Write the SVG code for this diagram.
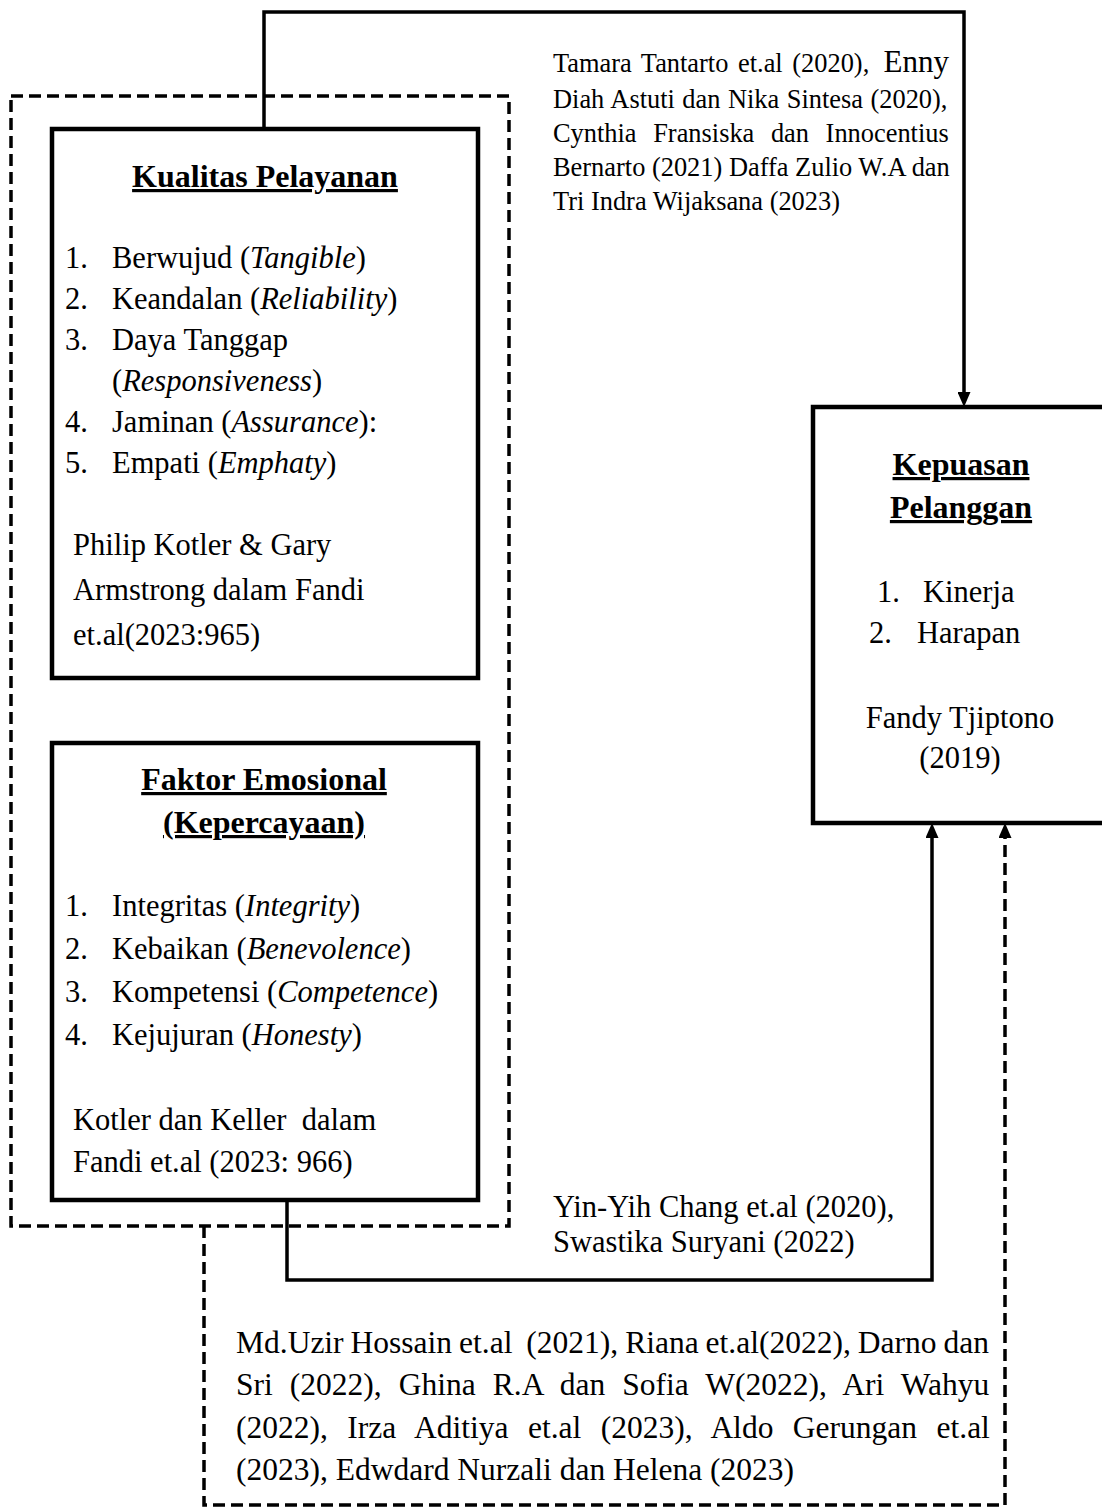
<svg xmlns="http://www.w3.org/2000/svg" width="1102" height="1508" viewBox="0 0 1102 1508">
<style>
text{font-family:"Liberation Serif","Times New Roman",serif;fill:#000}
.t{font-size:32px;font-weight:bold;text-decoration:underline;text-anchor:middle}
.b{font-size:30.5px}
.c{font-size:26.4px}
.d{font-size:31.5px}
.box{fill:#fff;stroke:#000;stroke-width:4.5}
.ln{fill:none;stroke:#000;stroke-width:3.5}
.dash{fill:none;stroke:#000;stroke-width:3.5;stroke-dasharray:12 6}
.i{font-style:italic}
</style>
<defs>
<marker id="ah" markerUnits="userSpaceOnUse" markerWidth="15" markerHeight="13" refX="0" refY="6.5" orient="auto">
<path d="M0,0 L15,6.5 L0,13 z" fill="#000"/>
</marker>
</defs>
<rect x="0" y="0" width="1102" height="1508" fill="#fff"/>

<g id="group-frame">
<rect x="11" y="96" width="498" height="1130" class="dash"/>
</g>

<g id="connectors">
<path d="M264,129 V12 H964 V392" class="ln" marker-end="url(#ah)"/>
<path d="M287,1200 V1280 H932 V838" class="ln" marker-end="url(#ah)"/>
<path d="M204,1226 V1505 H1005 V838" class="dash" marker-end="url(#ah)"/>
</g>

<g id="node-kualitas">
<rect x="52" y="129" width="426" height="549" class="box"/>
<text x="265" y="187" class="t">Kualitas Pelayanan</text>
<text class="b" x="65" y="268">1.</text><text class="b" x="112" y="268">Berwujud (<tspan class="i">Tangible</tspan>)</text>
<text class="b" x="65" y="309">2.</text><text class="b" x="112" y="309">Keandalan (<tspan class="i">Reliability</tspan>)</text>
<text class="b" x="65" y="350">3.</text><text class="b" x="112" y="350">Daya Tanggap</text>
<text class="b" x="112" y="391">(<tspan class="i">Responsiveness</tspan>)</text>
<text class="b" x="65" y="432">4.</text><text class="b" x="112" y="432">Jaminan (<tspan class="i">Assurance</tspan>):</text>
<text class="b" x="65" y="473">5.</text><text class="b" x="112" y="473">Empati (<tspan class="i">Emphaty</tspan>)</text>
<text class="b" x="73" y="555">Philip Kotler &amp; Gary</text>
<text class="b" x="73" y="600">Armstrong dalam Fandi</text>
<text class="b" x="73" y="645">et.al(2023:965)</text>
</g>

<g id="node-faktor">
<rect x="52" y="743" width="426" height="457" class="box"/>
<text x="264" y="790" class="t">Faktor Emosional</text>
<text x="264" y="833" class="t">(Kepercayaan)</text>
<text class="b" x="65" y="916">1.</text><text class="b" x="112" y="916">Integritas (<tspan class="i">Integrity</tspan>)</text>
<text class="b" x="65" y="959">2.</text><text class="b" x="112" y="959">Kebaikan (<tspan class="i">Benevolence</tspan>)</text>
<text class="b" x="65" y="1002">3.</text><text class="b" x="112" y="1002">Kompetensi (<tspan class="i">Competence</tspan>)</text>
<text class="b" x="65" y="1045">4.</text><text class="b" x="112" y="1045">Kejujuran (<tspan class="i">Honesty</tspan>)</text>
<text class="b" x="73" y="1130" xml:space="preserve">Kotler dan Keller  dalam</text>
<text class="b" x="73" y="1172">Fandi et.al (2023: 966)</text>
</g>

<g id="node-kepuasan">
<rect x="813" y="407" width="300" height="416" class="box"/>
<text x="961" y="475" class="t">Kepuasan</text>
<text x="961" y="518" class="t">Pelanggan</text>
<text class="b" x="877" y="602">1.</text><text class="b" x="923" y="602">Kinerja</text>
<text class="b" x="869" y="643">2.</text><text class="b" x="917" y="643">Harapan</text>
<text class="b" x="960" y="728" text-anchor="middle">Fandy Tjiptono</text>
<text class="b" x="960" y="768" text-anchor="middle">(2019)</text>
</g>

<g id="label-top">
<text class="c" x="553" y="72" word-spacing="3">Tamara Tantarto et.al (2020),</text>
<text x="949" y="72" font-size="31" text-anchor="end">Enny</text>
<text class="c" x="553" y="108" word-spacing="0.9">Diah Astuti dan Nika Sintesa (2020),</text>
<text class="c" x="553" y="142" word-spacing="10">Cynthia Fransiska dan Innocentius</text>
<text class="c" x="553" y="176" word-spacing="0">Bernarto (2021) Daffa Zulio W.A dan</text>
<text class="c" x="553" y="210">Tri Indra Wijaksana (2023)</text>
</g>

<g id="label-mid">
<text class="b" x="553" y="1217">Yin-Yih Chang et.al (2020),</text>
<text class="b" x="553" y="1252">Swastika Suryani (2022)</text>
</g>

<g id="label-bottom">
<text class="d" x="236" y="1353" word-spacing="-0.9" xml:space="preserve">Md.Uzir Hossain et.al  (2021), Riana et.al(2022), Darno dan</text>
<text class="d" x="236" y="1395" word-spacing="9.2">Sri (2022), Ghina R.A dan Sofia W(2022), Ari Wahyu</text>
<text class="d" x="236" y="1438" word-spacing="11.6">(2022), Irza Aditiya et.al (2023), Aldo Gerungan et.al</text>
<text class="d" x="236" y="1480">(2023), Edwdard Nurzali dan Helena (2023)</text>
</g>
</svg>
